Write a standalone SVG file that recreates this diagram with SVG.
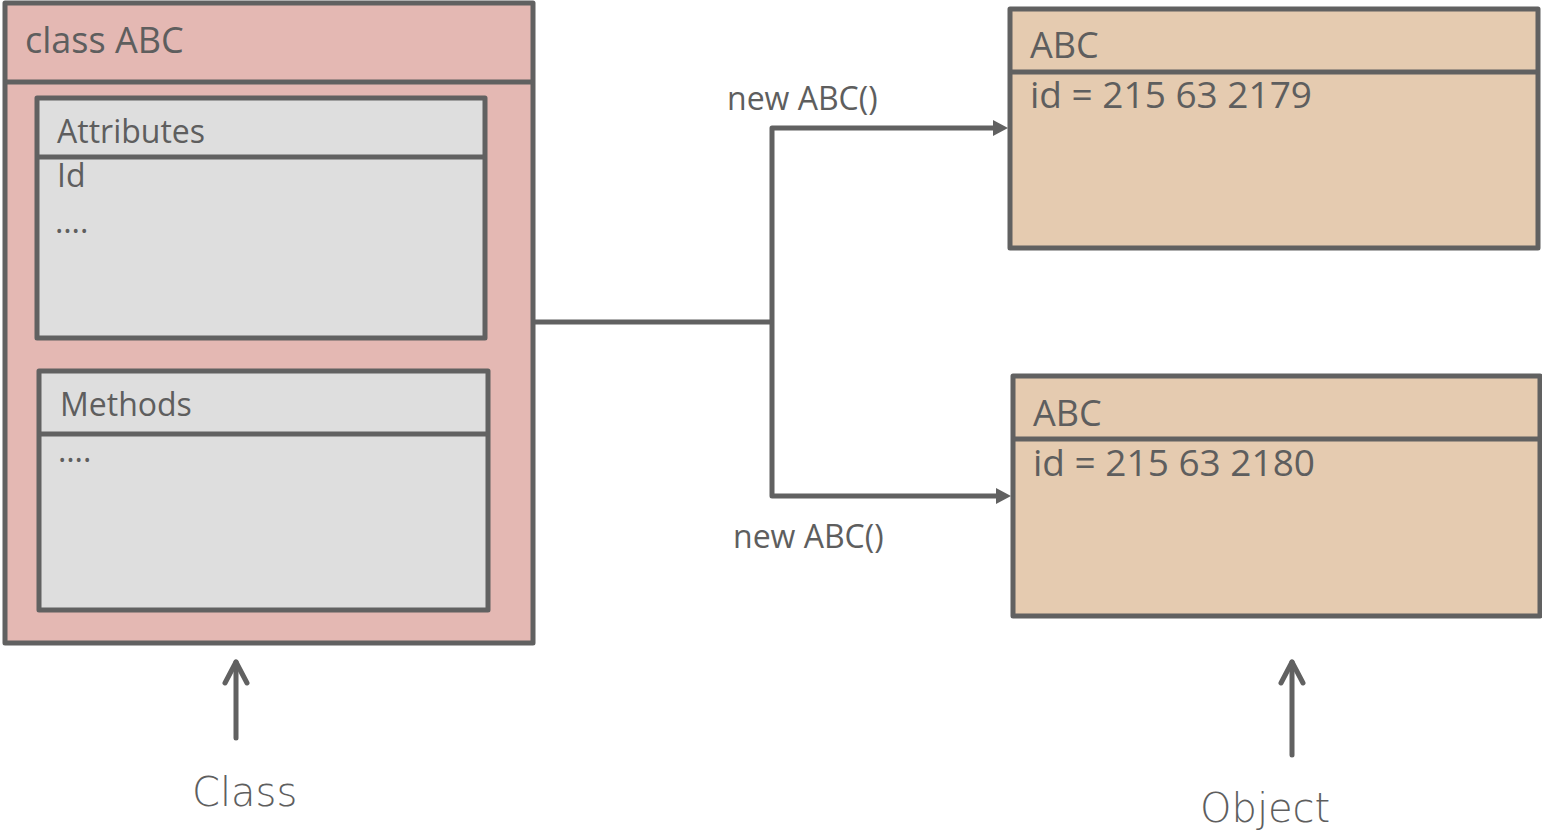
<svg xmlns="http://www.w3.org/2000/svg" width="1542" height="839" viewBox="0 0 1542 839">
<defs>
<style>
.box{stroke:#616161;stroke-width:5;stroke-linejoin:round}
.cls{fill:#E4B8B3}
.inner{fill:#DEDEDE}
.obj{fill:#E5CBB0}
.div{stroke:#616161;stroke-width:5}
.t{font-family:"Open Sans","Liberation Sans",sans-serif;fill:#5E5E5E}
.hand{font-family:"DejaVu Sans","Liberation Sans",sans-serif;font-weight:300;fill:#5E5E5E}
.conn{fill:none;stroke:#616161;stroke-width:5;stroke-linejoin:round}
.up{fill:none;stroke:#616161;stroke-width:5;stroke-linecap:round;stroke-linejoin:round}
</style>
<marker id="ah" markerWidth="18" markerHeight="18" refX="2" refY="8" orient="auto" markerUnits="userSpaceOnUse">
<path d="M0,0 L15,8 L0,16 Z" fill="#616161"/>
</marker>
</defs>
<g id="class-abc">
<rect class="box cls" x="5" y="3" width="528" height="640"/>
<line class="div" x1="5" y1="82" x2="533" y2="82"/>
<text class="t" x="25" y="53" font-size="36">class ABC</text>
</g>
<g id="attributes">
<rect class="box inner" x="37" y="98" width="448" height="240"/>
<line class="div" x1="37" y1="157" x2="485" y2="157"/>
<text class="t" x="57" y="143" font-size="32">Attributes</text>
<text class="t" x="57" y="187" font-size="32">Id</text>
<text class="t" x="55" y="233" font-size="32">….</text>
</g>
<g id="methods">
<rect class="box inner" x="39" y="371" width="449" height="239"/>
<line class="div" x1="39" y1="434" x2="488" y2="434"/>
<text class="t" x="60" y="416" font-size="32">Methods</text>
<text class="t" x="58" y="462" font-size="32">….</text>
</g>
<g id="object1">
<rect class="box obj" x="1010" y="9" width="528" height="239"/>
<line class="div" x1="1010" y1="72" x2="1538" y2="72"/>
<text class="t" x="1030" y="58" font-size="36">ABC</text>
<text class="t" x="1030" y="108" font-size="37">id = 215 63 2179</text>
</g>
<g id="object2">
<rect class="box obj" x="1013" y="376" width="527" height="240"/>
<line class="div" x1="1013" y1="439" x2="1540" y2="439"/>
<text class="t" x="1033" y="426" font-size="36">ABC</text>
<text class="t" x="1033" y="476" font-size="37">id = 215 63 2180</text>
</g>
<g id="connectors">
<polyline class="conn" points="535,322 772,322"/>
<polyline class="conn" points="772,322 772,128 995,128" marker-end="url(#ah)"/>
<polyline class="conn" points="772,322 772,496 998,496" marker-end="url(#ah)"/>
<text class="t" x="727" y="110" font-size="32">new ABC()</text>
<text class="t" x="733" y="548" font-size="32">new ABC()</text>
<line class="up" x1="236" y1="738" x2="236" y2="662"/>
<polyline class="up" points="225,683 236,662 247,683"/>
<line class="up" x1="1292" y1="755" x2="1292" y2="662"/>
<polyline class="up" points="1281,683 1292,662 1303,683"/>
</g>
<g id="label-class">
<text class="hand" x="192" y="806" font-size="40">Class</text>
</g>
<g id="label-object">
<text class="hand" x="1200" y="822" font-size="40">Object</text>
</g>
</svg>
